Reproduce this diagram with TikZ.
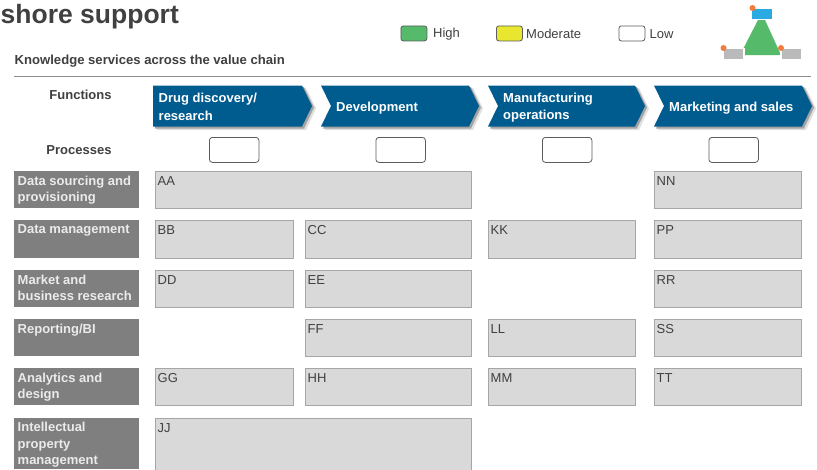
\documentclass[tikz,border=0pt]{standalone}
\usepackage{fontspec}
\setmainfont{Liberation Sans}
\definecolor{chev}{HTML}{005C8F}
\definecolor{ink}{HTML}{404040}
\definecolor{cellfill}{HTML}{D9D9D9}
\definecolor{celledge}{HTML}{A6A6A6}
\definecolor{rowfill}{HTML}{7F7F7F}
\definecolor{hi}{HTML}{55BB6A}
\definecolor{mod}{HTML}{E8E62E}
\definecolor{dot}{HTML}{F47B3E}
\definecolor{iconblue}{HTML}{29ABE2}
\tikzset{
  x=1pt,y=-1pt,
  cell/.style={draw=celledge,line width=0.9pt,fill=cellfill,anchor=north west,inner sep=0pt,outer sep=0pt},
  celltext/.style={font=\fontsize{13}{15}\selectfont,text=ink,anchor=north west,inner sep=0pt},
  rowbox/.style={fill=rowfill,anchor=north west,inner sep=0pt,outer sep=0pt},
  rowtext/.style={font=\fontsize{13}{16.5}\selectfont\bfseries,text=white!92!black,anchor=north west,inner sep=0pt,align=left},
  swatch/.style={draw=ink!85,line width=0.8pt,rounded corners=2.5pt,anchor=north west,inner sep=0pt,minimum width=26pt,minimum height=15pt},
  procbox/.style={draw=ink!85,line width=0.8pt,rounded corners=3pt,fill=white,anchor=north west,inner sep=0pt,minimum width=49.5pt,minimum height=25pt},
  legendtext/.style={font=\fontsize{13}{15}\selectfont,text=ink,anchor=west,inner sep=0pt},
  headtext/.style={font=\fontsize{13}{15}\selectfont\bfseries,text=ink,inner sep=0pt},
  chevtext/.style={font=\fontsize{13}{17.5}\selectfont\bfseries,text=white,anchor=west,inner sep=0pt,align=left},
  chevshape/.style={fill=chev},
  chevshadowa/.style={fill=black!12},
  chevshadowb/.style={fill=black!36},
}
\newcommand{\cellbox}[7]{% name x y w h text-name text
  \node[cell,minimum width=#4pt,minimum height=#5pt] (#1) at (#2,#3) {};
  \node[celltext] (#6) at (#2+2.5,#3+5) {#7};
}
\newcommand{\rowbox}[6]{% name y h text-name textdy text
  \node[rowbox,minimum width=125pt,minimum height=#3pt] (#1) at (14,#2) {};
  \node[rowtext] (#4) at (17.5,#2+#5) {#6};
}
\newcommand{\chevronshape}[4]{% x tip notch style-offset
  \fill[chevshadowa] (#1+4,88) -- (#2-10+4,88) -- (#2+4,108.5) -- (#2-10+4,130) -- (#1+4,130) -- (#3+4,108.5) -- cycle;
  \fill[chevshadowb] (#1+2,87) -- (#2-10+2,87) -- (#2+2,107.5) -- (#2-10+2,128.5) -- (#1+2,128.5) -- (#3+2,107.5) -- cycle;
  \fill[chevshape] (#1,85.5) -- (#2-10,85.5) -- (#2,106) -- (#2-10,126.5) -- (#1,126.5) -- (#3,106) -- cycle;
}
\begin{document}
\begin{tikzpicture}
\useasboundingbox (0,0) rectangle (817,469);
\fill[white] (0,0) rectangle (817,469);
\begin{scope}
\clip (0,0) rectangle (817,469);
\node[font=\fontsize{26.5}{30}\selectfont\bfseries,text=ink,anchor=west,inner sep=0pt] (title) at (0.5,16.5) {shore support};
\node[font=\fontsize{13.1}{15}\selectfont\bfseries,text=ink,anchor=west,inner sep=0pt] (subtitle) at (14.5,61.5) {Knowledge services across the value chain};
\coordinate (ruleL) at (14,76.5);
\coordinate (ruleR) at (811,76.5);
\draw[black!45,line width=1pt] (ruleL) -- (ruleR);

% legend
\node[swatch,fill=hi] (sHigh) at (400.5,25.5) {};
\node[legendtext] (tHigh) at (433,34) {High};
\node[swatch,fill=mod] (sMod) at (496,25.5) {};
\node[legendtext] (tMod) at (526,34) {Moderate};
\node[swatch,fill=white] (sLow) at (618.5,25.5) {};
\node[legendtext] (tLow) at (649.5,34) {Low};

% icon
\fill[hi] (758,20) -- (765,20) -- (781,55) -- (740,55) -- cycle;
\fill[white] (750.5,7.5) rectangle (773.5,20);
\fill[white] (721.5,47.5) rectangle (744.5,60.5);
\fill[white] (780,47.5) rectangle (802.5,60.5);
\fill[black!27] (723.5,49) rectangle (743,59);
\fill[black!27] (781.5,49) rectangle (801,59);
\fill[iconblue] (752,9) rectangle (771.5,19);
\fill[dot] (752.5,8) circle (3);
\fill[dot] (723.5,48) circle (3);
\fill[dot] (781,48) circle (3);

% headers
\node[headtext] (hFunc) at (80.5,95) {Functions};
\node[headtext] (hProc) at (79,150.5) {Processes};

% chevrons
\fill[chevshadowa] (157,88) -- (306,88) -- (316,108.5) -- (306,130) -- (157,130) -- cycle;
\fill[chevshadowb] (155,87) -- (304,87) -- (314,107.5) -- (304,128.5) -- (155,128.5) -- cycle;
\fill[chevshape] (153,85.5) -- (302,85.5) -- (312,106) -- (302,126.5) -- (153,126.5) -- cycle;
\chevronshape{321}{479}{331}{}
\chevronshape{488}{645}{498}{}
\chevronshape{654}{812}{664}{}
\node[chevtext] (c1) at (158.5,107) {Drug discovery/\\research};
\node[chevtext] (c2) at (336,108) {Development};
\node[chevtext] (c3) at (503,107.5) {Manufacturing\\operations};
\node[chevtext] (c4) at (669,108) {Marketing and sales};

% process boxes
\node[procbox] (p1) at (209,137) {};
\node[procbox] (p2) at (375.5,137) {};
\node[procbox] (p3) at (542,137) {};
\node[procbox] (p4) at (708.5,137) {};

% row labels
\rowbox{r1}{171}{37}{rt1}{4.7}{Data sourcing and\\provisioning}
\rowbox{r2}{220}{38}{rt2}{4.7}{Data management}
\rowbox{r3}{270}{37}{rt3}{4.7}{Market and\\business research}
\rowbox{r4}{319}{37}{rt4}{4.7}{Reporting/BI}
\rowbox{r5}{368}{37}{rt5}{4.7}{Analytics and\\design}
\rowbox{r6}{418}{51}{rt6}{4}{Intellectual\\property\\management}

% cells
\cellbox{aa}{155}{171}{316}{37}{taa}{AA}
\cellbox{nn}{654}{171}{147}{37}{tnn}{NN}
\cellbox{bb}{155}{220}{138}{38}{tbb}{BB}
\cellbox{cc}{305}{220}{166}{38}{tcc}{CC}
\cellbox{kk}{488}{220}{147}{38}{tkk}{KK}
\cellbox{pp}{654}{220}{147}{38}{tpp}{PP}
\cellbox{dd}{155}{270}{138}{37}{tdd}{DD}
\cellbox{ee}{305}{270}{166}{37}{tee}{EE}
\cellbox{rr}{654}{270}{147}{37}{trr}{RR}
\cellbox{ff}{305}{319}{166}{37}{tff}{FF}
\cellbox{ll}{488}{319}{147}{37}{tll}{LL}
\cellbox{ss}{654}{319}{147}{37}{tss}{SS}
\cellbox{gg}{155}{368}{138}{37}{tgg}{GG}
\cellbox{hh}{305}{368}{166}{37}{thh}{HH}
\cellbox{mm}{488}{368}{147}{37}{tmm}{MM}
\cellbox{tt}{654}{368}{147}{37}{ttt}{TT}
\cellbox{jj}{155}{418}{316}{60}{tjj}{JJ}
\end{scope}
\end{tikzpicture}
\end{document}
